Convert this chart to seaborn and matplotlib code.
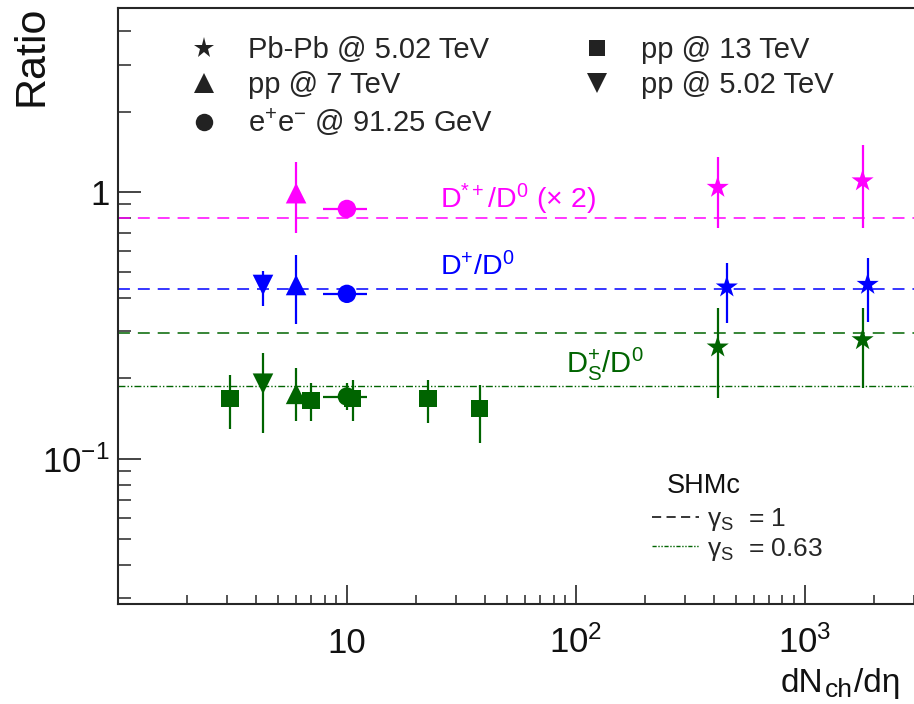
import matplotlib
matplotlib.use("Agg")
import matplotlib.pyplot as plt
import matplotlib.ticker as mticker
from matplotlib.lines import Line2D
import numpy as np
import pandas as pd
import seaborn as sns

# ------------------------------------------------------------------
# values
# ------------------------------------------------------------------
# Pb-Pb @ 5.02 TeV (D+ points drawn slightly shifted in x)
pbpb_x = [417, 1791]
pbpb_x_dplus = [457, 1885]
pbpb_dstar = [1.04, 1.10]
pbpb_dstar_lo = [0.73, 0.73]
pbpb_dstar_hi = [1.35, 1.50]
pbpb_dplus = [0.44, 0.45]
pbpb_dplus_lo = [0.322, 0.325]
pbpb_dplus_hi = [0.54, 0.566]
pbpb_ds = [0.262, 0.279]
pbpb_ds_lo = [0.169, 0.184]
pbpb_ds_hi = [0.367, 0.367]

# pp @ 7 TeV
pp7_x = [6.0]
pp7_dstar = [0.99]
pp7_dstar_lo = [0.70]
pp7_dstar_hi = [1.30]
pp7_dplus = [0.448]
pp7_dplus_lo = [0.32]
pp7_dplus_hi = [0.58]
pp7_ds = [0.175]
pp7_ds_lo = [0.139]
pp7_ds_hi = [0.219]

# e+e- @ 91.25 GeV
ee_x = [10.0]
ee_x_lo = [7.9]
ee_x_hi = [12.2]
ee_dstar = [0.864]
ee_dstar_lo = [0.845]
ee_dstar_hi = [0.885]
ee_dplus = [0.415]
ee_dplus_lo = [0.405]
ee_dplus_hi = [0.425]
ee_ds = [0.171]
ee_ds_lo = [0.152]
ee_ds_hi = [0.192]

# pp @ 5.02 TeV
pp5_x = [4.3]
pp5_dplus = [0.448]
pp5_dplus_lo = [0.374]
pp5_dplus_hi = [0.506]
pp5_ds = [0.191]
pp5_ds_lo = [0.125]
pp5_ds_hi = [0.249]

# pp @ 13 TeV (Ds only)
pp13_x = [3.08, 6.97, 10.6, 22.6, 38.0]
pp13_ds = [0.168, 0.165, 0.168, 0.168, 0.154]
pp13_ds_lo = [0.129, 0.139, 0.139, 0.136, 0.114]
pp13_ds_hi = [0.206, 0.192, 0.197, 0.197, 0.189]

# SHMc predictions
shm_dstar = 0.80
shm_dplus = 0.433
shm_ds_g1 = 0.296
shm_ds_g063 = 0.187

systems = ["Pb-Pb @ 5.02 TeV", "pp @ 7 TeV", "e$^{+}$e$^{-}$ @ 91.25 GeV",
           "pp @ 13 TeV", "pp @ 5.02 TeV"]
markers = dict(zip(systems, ["*", "^", "o", "s", "v"]))
msizes = dict(zip(systems, [280, 220, 175, 160, 220]))
colors = {"dstar": "#ff00ff", "dplus": "#0000ff", "ds": "#006400"}

# ------------------------------------------------------------------
# assemble long table
# ------------------------------------------------------------------
rows = []


def add(system, species, x, y, lo, hi, xlo=None, xhi=None):
    for i in range(len(x)):
        rows.append(dict(system=system, species=species, x=x[i], y=y[i],
                         lo=lo[i], hi=hi[i],
                         xlo=xlo[i] if xlo else x[i],
                         xhi=xhi[i] if xhi else x[i]))


add(systems[0], "dstar", pbpb_x, pbpb_dstar, pbpb_dstar_lo, pbpb_dstar_hi)
add(systems[0], "dplus", pbpb_x_dplus, pbpb_dplus, pbpb_dplus_lo, pbpb_dplus_hi)
add(systems[0], "ds", pbpb_x, pbpb_ds, pbpb_ds_lo, pbpb_ds_hi)
add(systems[1], "dstar", pp7_x, pp7_dstar, pp7_dstar_lo, pp7_dstar_hi)
add(systems[1], "dplus", pp7_x, pp7_dplus, pp7_dplus_lo, pp7_dplus_hi)
add(systems[1], "ds", pp7_x, pp7_ds, pp7_ds_lo, pp7_ds_hi)
add(systems[2], "dstar", ee_x, ee_dstar, ee_dstar_lo, ee_dstar_hi, ee_x_lo, ee_x_hi)
add(systems[2], "dplus", ee_x, ee_dplus, ee_dplus_lo, ee_dplus_hi, ee_x_lo, ee_x_hi)
add(systems[2], "ds", ee_x, ee_ds, ee_ds_lo, ee_ds_hi, ee_x_lo, ee_x_hi)
add(systems[3], "ds", pp13_x, pp13_ds, pp13_ds_lo, pp13_ds_hi)
add(systems[4], "dplus", pp5_x, pp5_dplus, pp5_dplus_lo, pp5_dplus_hi)
add(systems[4], "ds", pp5_x, pp5_ds, pp5_ds_lo, pp5_ds_hi)
df = pd.DataFrame(rows)

# ------------------------------------------------------------------
# style
# ------------------------------------------------------------------
sns.set_theme(style="ticks")
plt.rcParams["font.family"] = ["Liberation Sans", "DejaVu Sans"]
plt.rcParams["mathtext.fontset"] = "custom"
plt.rcParams["mathtext.rm"] = "Liberation Sans"
plt.rcParams["mathtext.it"] = "Liberation Sans:italic"
plt.rcParams["mathtext.bf"] = "Liberation Sans:bold"
plt.rcParams["axes.linewidth"] = 1.5

fig = plt.figure(figsize=(9.14, 7.04), dpi=100)
ax = fig.add_axes([118 / 914, 100 / 704, 824 / 914, 596 / 704])
ax.set_xscale("log")
ax.set_yscale("log")

# model lines
ax.axhline(shm_dstar, color=colors["dstar"], lw=1.1, ls=(0, (7.8, 5.2)), zorder=1)
ax.axhline(shm_dplus, color=colors["dplus"], lw=1.1, ls=(0, (7.8, 5.2)), zorder=1)
ax.axhline(shm_ds_g1, color=colors["ds"], lw=1.1, ls=(0, (7.8, 5.2)), zorder=1)
ax.axhline(shm_ds_g063, color=colors["ds"], lw=1.0,
           ls=(0, (5, 1.5, 1, 1.5, 1, 1.5)), zorder=1)

# error bars
for sp, sub in df.groupby("species"):
    ax.errorbar(sub["x"], sub["y"],
                yerr=[sub["y"] - sub["lo"], sub["hi"] - sub["y"]],
                xerr=[sub["x"] - sub["xlo"], sub["xhi"] - sub["x"]],
                fmt="none", ecolor=colors[sp], elinewidth=1.6, capsize=0, zorder=2)

# markers
sns.scatterplot(data=df, x="x", y="y", hue="species", palette=colors,
                style="system", markers=markers, size="system", sizes=msizes,
                linewidth=0, legend=False, ax=ax, zorder=3)

ax.set_xlim(1.0, 10 ** 3.6)
ax.set_ylim(10 ** -1.545, 10 ** 0.69)
ax.set_xlabel("")
ax.set_ylabel("")

# ticks, ROOT style
ax.xaxis.set_major_locator(mticker.FixedLocator([10, 100, 1000]))
ax.xaxis.set_major_formatter(mticker.FixedFormatter(["10", r"$10^{2}$", r"$10^{3}$"]))
ax.xaxis.set_minor_locator(mticker.LogLocator(base=10, subs=np.arange(2, 10), numticks=20))
ax.xaxis.set_minor_formatter(mticker.NullFormatter())
ax.yaxis.set_major_locator(mticker.FixedLocator([0.1, 1]))
ax.yaxis.set_major_formatter(mticker.FixedFormatter([r"$10^{-1}$", "1"]))
ax.yaxis.set_minor_locator(mticker.LogLocator(base=10, subs=np.arange(2, 10), numticks=20))
ax.yaxis.set_minor_formatter(mticker.NullFormatter())
ax.tick_params(axis="y", which="major", direction="in", length=16.5, width=1.1,
               labelsize=25, pad=6, colors="#111111")
ax.tick_params(axis="y", which="minor", direction="in", length=9.4, width=1.1)
ax.tick_params(axis="x", which="major", direction="in", length=13.7, width=1.1,
               labelsize=25, pad=35, colors="#111111")
ax.tick_params(axis="x", which="minor", direction="in", length=6.5, width=1.1)
ax.tick_params(top=False, right=False, which="both")

# in-plot labels
ax.text(25.5, 0.87, r"D$^{*+}$/D$^{0}$ (× 2)", color=colors["dstar"], fontsize=20.5,
        va="baseline")
ax.text(25.5, 0.488, r"D$^{+}$/D$^{0}$", color=colors["dplus"], fontsize=20.5,
        va="baseline")
ax.text(91, 0.209, r"D$_{\mathrm{S}}^{+}$/D$^{0}$", color=colors["ds"], fontsize=21,
        va="baseline")

# data legend (two blocks)
handles = [Line2D([], [], ls="none", marker=markers[s], color="#222222",
                  markersize=np.sqrt(msizes[s]) * 0.95, markeredgewidth=0)
           for s in systems]
leg_kw = dict(loc="upper left", bbox_transform=fig.transFigure, frameon=False,
              fontsize=21, handlelength=0.86, handletextpad=1.08, borderpad=0,
              borderaxespad=0, labelspacing=0.25)
leg1 = ax.legend(handles[:3], systems[:3], bbox_to_anchor=(191.5 / 914, 1 - 36 / 704),
                 **leg_kw)
ax.add_artist(leg1)
leg2 = ax.legend(handles[3:], systems[3:], bbox_to_anchor=(584.5 / 914, 1 - 36 / 704),
                 **leg_kw)
ax.add_artist(leg2)

# SHMc legend
fig.text(667 / 914, 1 - 486 / 704, "SHMc", fontsize=19.5, va="center", color="#111111")
shm_handles = [Line2D([], [], color="black", lw=1.1, ls=(0, (6, 3.5))),
               Line2D([], [], color=colors["ds"], lw=1.0, ls=(0, (3, 1.2, 1, 1.2, 1, 1.2)))]
ax.legend(shm_handles, [r"$\mathrm{\gamma}_{\mathrm{S}}$  = 1",
                        r"$\mathrm{\gamma}_{\mathrm{S}}$  = 0.63"],
          loc="upper left", bbox_to_anchor=(652 / 914, 1 - 506 / 704),
          bbox_transform=fig.transFigure, frameon=False, fontsize=19,
          handlelength=1.78, handletextpad=0.3, borderpad=0, borderaxespad=0,
          labelspacing=0.1)

# axis titles
fig.text(12 / 914, 1 - 6 / 704, "Ratio", rotation=90, fontsize=31, ha="left", va="top",
         color="#111111")

# x title built from pieces so the subscript sits low and large, like ROOT
fig.canvas.draw()
renderer = fig.canvas.get_renderer()
t1 = fig.text(781 / 914, 1 - 692 / 704, "dN", fontsize=24, va="baseline", color="#111111")
x1 = t1.get_window_extent(renderer).x1
t2 = fig.text((x1 + 1) / 914, 1 - 697 / 704, "ch", fontsize=19, va="baseline",
              color="#111111")
x2 = t2.get_window_extent(renderer).x1
fig.text((x2 + 1) / 914, 1 - 692 / 704, "/dη", fontsize=24, va="baseline", color="#111111")

for t in ax.xaxis.get_major_ticks():
    t.label1.set_verticalalignment("baseline")

fig.savefig("out.png", dpi=100)
